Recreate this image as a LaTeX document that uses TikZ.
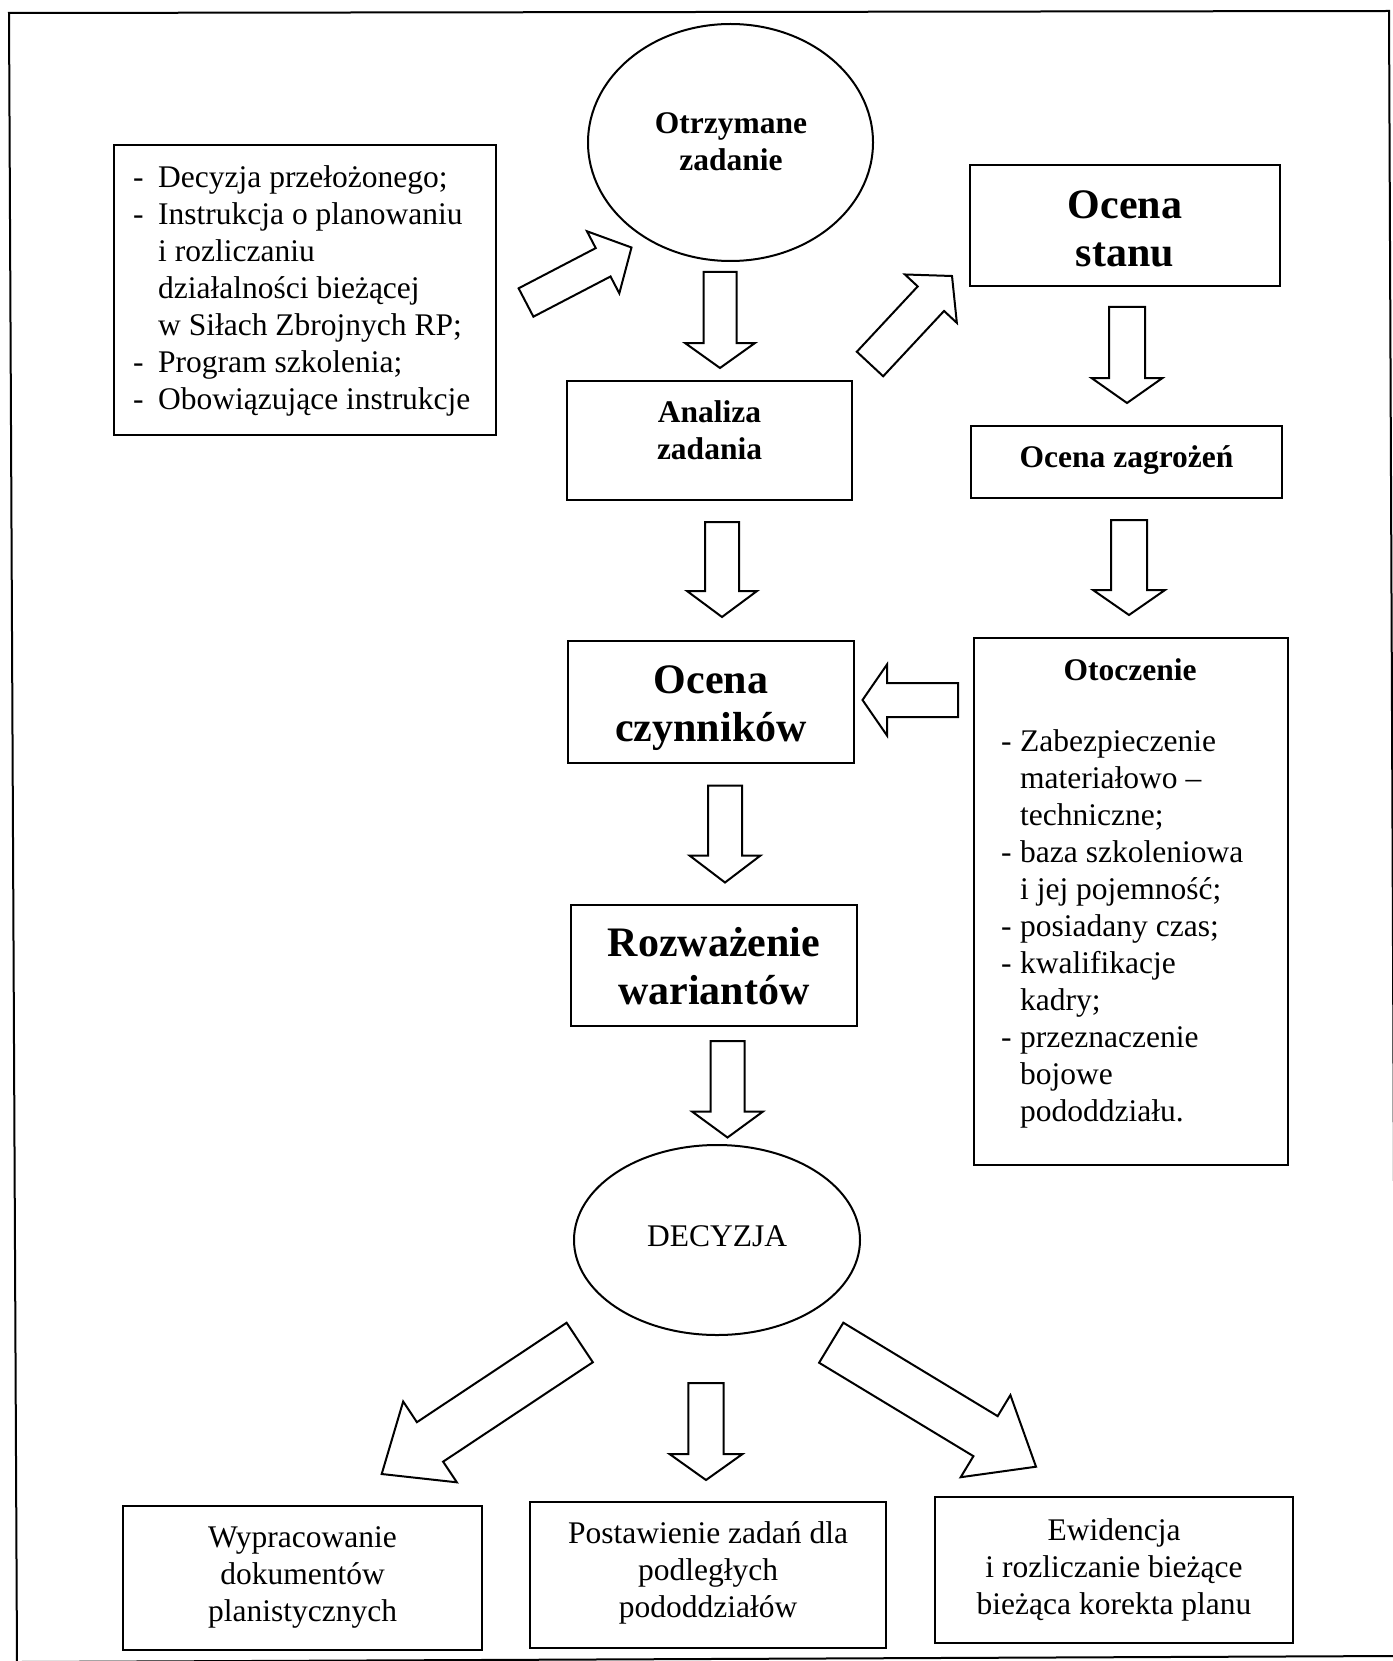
\documentclass[tikz,border=0pt]{standalone}
\usepackage{fontspec}
\setmainfont{Liberation Serif}
\usetikzlibrary{shapes.geometric,calc}

% list bullet and hanging indent
\newcommand{\lbul}[1]{\makebox[#1][l]{-}}
\newcommand{\lind}[1]{\hspace*{#1}}

% hollow block arrow: tail, tip, half shaft width, half head width, head length
\newcommand{\blockarrow}[5]{%
  \coordinate (ba-base) at ($(#2)!#5!(#1)$);
  \draw[blockarr] ($(#1)!#3!90:(#2)$) -- ($(ba-base)!#3!-90:(#1)$)
    -- ($(ba-base)!#4!-90:(#1)$) -- (#2) -- ($(ba-base)!#4!90:(#1)$)
    -- ($(ba-base)!#3!90:(#1)$) -- ($(#1)!#3!-90:(#2)$) -- cycle;
}

\begin{document}
\begin{tikzpicture}[x=1pt,y=-1pt]
\tikzset{
  box/.style={draw, line width=2pt, rectangle, inner sep=0pt},
  oval/.style={draw, line width=2pt, ellipse, inner sep=0pt},
  txt/.style={inner sep=0pt, font=\fontsize{31.5}{37}\selectfont},
  txtb/.style={inner sep=0pt, font=\fontsize{31.5}{37}\selectfont\bfseries},
  txtB/.style={inner sep=0pt, font=\fontsize{42}{48}\selectfont\bfseries},
  blockarr/.style={draw, line width=2pt, fill=white, line join=miter}
}
\useasboundingbox (0,0) rectangle (1392,1661);
\fill[white] (0,0) rectangle (1392,1661);

% outer frame
\draw[line width=2pt] (9,13) -- (1389,11) -- (1396,1656) -- (17,1662) -- cycle;

% boxes and ovals
\node[box, minimum width=382pt, minimum height=290pt] (lb) at (305,290) {};
\node[oval, minimum width=285pt, minimum height=237pt] (task) at (730.5,142.5) {};
\node[box, minimum width=285pt, minimum height=119pt] (anal) at (709.5,440.5) {};
\node[box, minimum width=310pt, minimum height=121pt] (stan) at (1125,225.5) {};
\node[box, minimum width=311pt, minimum height=72pt] (zagr) at (1126.5,462) {};
\node[box, minimum width=286pt, minimum height=122pt] (czyn) at (711,702) {};
\node[box, minimum width=314pt, minimum height=527pt] (otocz) at (1131,901.5) {};
\node[box, minimum width=286pt, minimum height=121pt] (rozw) at (714,965.5) {};
\node[oval, minimum width=286pt, minimum height=190pt] (dec) at (717,1240) {};
\node[box, minimum width=359pt, minimum height=144pt] (bl) at (302.5,1578) {};
\node[box, minimum width=356pt, minimum height=146pt] (bm) at (708,1575) {};
\node[box, minimum width=358pt, minimum height=146pt] (br) at (1114,1570) {};

% texts
\node[txt, align=left, anchor=west] (lbt) at (133,291.5) {%
  \strut\lbul{25pt}Decyzja przełożonego;\\
  \lbul{25pt}Instrukcja o planowaniu\\
  \lind{25pt}i rozliczaniu\\
  \lind{25pt}działalności bieżącej\\
  \lind{25pt}w Siłach Zbrojnych RP;\\
  \lbul{25pt}Program szkolenia;\\
  \lbul{25pt}Obowiązujące instrukcje\strut};
\node[txtb, align=center] (taskt) at (731,144.5) {\strut Otrzymane\\zadanie\strut};
\node[txtb, align=center] (analt) at (709.5,433.5) {\strut Analiza\\zadania\strut};
\node[txtB, align=center] (stant) at (1125,233) {\strut Ocena\\stanu\strut};
\node[txtb, align=center] (zagrt) at (1126.5,460.5) {\strut Ocena zagrożeń\strut};
\node[txtB, align=center] (czynt) at (711,708) {\strut Ocena\\czynników\strut};
\node[txtb, align=center] (otoczt) at (1130,673.5) {\strut Otoczenie\strut};
\node[txt, align=left, anchor=west] (otoczl) at (1001,929.5) {%
  \strut\lbul{19pt}Zabezpieczenie\\
  \lind{19pt}materiałowo –\\
  \lind{19pt}techniczne;\\
  \lbul{19pt}baza szkoleniowa\\
  \lind{19pt}i jej pojemność;\\
  \lbul{19pt}posiadany czas;\\
  \lbul{19pt}kwalifikacje\\
  \lind{19pt}kadry;\\
  \lbul{19pt}przeznaczenie\\
  \lind{19pt}bojowe\\
  \lind{19pt}pododdziału.\strut};
\node[txtB, align=center] (rozwt) at (714,971) {\strut Rozważenie\\wariantów\strut};
\node[txt] (dect) at (717,1239.5) {\strut DECYZJA\strut};
\node[txt, align=center] (blt) at (302.5,1577) {\strut Wypracowanie\\dokumentów\\planistycznych\strut};
\node[txt, align=center] (bmt) at (708,1573) {\strut Postawienie zadań dla\\podległych\\pododdziałów\strut};
\node[txt, align=center] (brt) at (1114,1570) {\strut Ewidencja\\i rozliczanie bieżące\\bieżąca korekta planu\strut};

% arrow end points
\coordinate (a1s) at (526,302.5);   \coordinate (a1e) at (631.5,247.5);
\coordinate (a2s) at (720,272);     \coordinate (a2e) at (720,368);
\coordinate (a3s) at (870,364);     \coordinate (a3e) at (952,276);
\coordinate (a4s) at (1127,307);    \coordinate (a4e) at (1127,403);
\coordinate (a5s) at (722,522);     \coordinate (a5e) at (722,617);
\coordinate (a6s) at (1129,520);    \coordinate (a6e) at (1129,615);
\coordinate (a7s) at (958,700);     \coordinate (a7e) at (862.5,700);
\coordinate (a8s) at (725,785.5);   \coordinate (a8e) at (725,882.5);
\coordinate (a9s) at (727.5,1041);  \coordinate (a9e) at (727.5,1137.5);
\coordinate (a10s) at (579.7,1342.5); \coordinate (a10e) at (381.7,1474);
\coordinate (a11s) at (706,1383);   \coordinate (a11e) at (706,1480);
\coordinate (a12s) at (831.2,1342.7); \coordinate (a12e) at (1036,1466.7);

% block arrows
\blockarrow{a1s}{a1e}{16pt}{35pt}{32pt}
\blockarrow{a2s}{a2e}{16.5pt}{35pt}{25pt}
\blockarrow{a3s}{a3e}{18pt}{35.5pt}{31pt}
\blockarrow{a4s}{a4e}{18pt}{35.5pt}{25pt}
\blockarrow{a5s}{a5e}{17pt}{35pt}{26pt}
\blockarrow{a6s}{a6e}{18pt}{36pt}{25pt}
\blockarrow{a7s}{a7e}{17pt}{35.5pt}{24.5pt}
\blockarrow{a8s}{a8e}{17pt}{35.5pt}{27pt}
\blockarrow{a9s}{a9e}{17pt}{35.5pt}{26pt}
\blockarrow{a10s}{a10e}{23.7pt}{48.5pt}{58pt}
\blockarrow{a11s}{a11e}{17.7pt}{36.5pt}{26pt}
\blockarrow{a12s}{a12e}{23.4pt}{48pt}{59pt}
\end{tikzpicture}
\end{document}
